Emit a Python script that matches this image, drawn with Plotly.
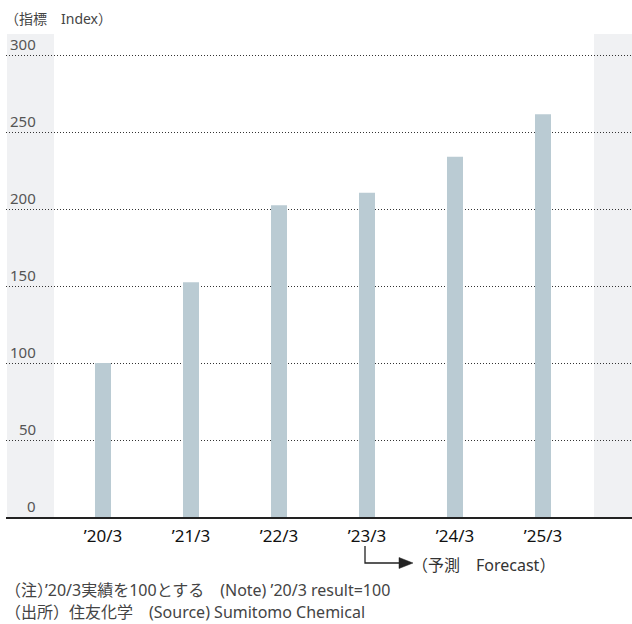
import plotly.graph_objects as go

categories = ["’20/3", "’21/3", "’22/3", "’23/3", "’24/3", "’25/3"]
values = [100, 152.5, 202.5, 210.5, 234, 261.5]
ytick_vals = [0, 50, 100, 150, 200, 250, 300]
ytick_text = ["0", "50", "100", "150", "200", "250", "300"]

W, H = 632, 624
ML, MR, MT, MB = 6, 0, 34, 107
PW, PH = W - ML - MR, H - MT - MB
FONT = "Noto Sans, Noto Sans CJK JP, sans-serif"


def px(x):
    return (x - ML) / PW


def py(y):
    return (H - MB - y) / PH


fig = go.Figure()
fig.add_trace(go.Bar(
    x=list(range(len(categories))), y=values,
    width=0.182, marker=dict(color="#bacbd3", line=dict(width=0)),
    hoverinfo="skip",
))

shapes = [
    dict(type="rect", xref="paper", yref="paper", x0=px(7), x1=px(54), y0=0, y1=1,
         fillcolor="#f0f1f3", line=dict(width=0), layer="below"),
    dict(type="rect", xref="paper", yref="paper", x0=px(594), x1=1, y0=0, y1=1,
         fillcolor="#f0f1f3", line=dict(width=0), layer="below"),
    # forecast arrow
    dict(type="path", xref="paper", yref="paper",
         path=f"M {px(365)} {py(546)} L {px(365)} {py(563)} L {px(402)} {py(563)}",
         line=dict(color="#222", width=1.3)),
    dict(type="path", xref="paper", yref="paper",
         path=f"M {px(399)} {py(557.5)} L {px(413)} {py(563)} L {px(399)} {py(568.5)} Z",
         fillcolor="#222", line=dict(color="#222", width=0.5)),
]

annotations = []
for v, t in zip(ytick_vals, ytick_text):
    annotations.append(dict(x=px(38), xref="paper", y=v, yref="y", text=t, showarrow=False,
                            xanchor="right", yanchor="bottom", yshift=-1,
                            font=dict(family=FONT, size=15, color="#555")))

annotations += [
    dict(x=px(3), y=py(18), xref="paper", yref="paper", text="（指標　Index）", showarrow=False,
         xanchor="left", yanchor="middle", font=dict(family=FONT, size=14, color="#444")),
    dict(x=px(410), y=py(565), xref="paper", yref="paper", text="（予測　Forecast）", showarrow=False,
         xanchor="left", yanchor="middle", font=dict(family=FONT, size=16, color="#333")),
    dict(x=px(3), y=py(590), xref="paper", yref="paper",
         text="（注）’20/3実績を100とする　(Note) ’20/3 result=100", showarrow=False,
         xanchor="left", yanchor="middle", font=dict(family=FONT, size=16, color="#444")),
    dict(x=px(3), y=py(612), xref="paper", yref="paper",
         text="（出所）住友化学　(Source) Sumitomo Chemical", showarrow=False,
         xanchor="left", yanchor="middle", font=dict(family=FONT, size=16, color="#444")),
]

fig.update_layout(
    width=W, height=H,
    margin=dict(l=ML, r=MR, t=MT, b=MB, pad=0),
    paper_bgcolor="white", plot_bgcolor="rgba(0,0,0,0)",
    showlegend=False,
    shapes=shapes, annotations=annotations,
    xaxis=dict(
        tickmode="array", tickvals=list(range(len(categories))), ticktext=categories,
        range=[(ML - 103) / 88, (W - MR - 103) / 88],
        showgrid=False, zeroline=False, showline=True, linecolor="#222", linewidth=1.5,
        ticks="", ticklabelstandoff=3,
        tickfont=dict(family=FONT, size=17, color="#111"), fixedrange=True,
    ),
    yaxis=dict(
        range=[0, (H - MB - MT) / 1.54], tickvals=ytick_vals[1:], showticklabels=False,
        showgrid=True, gridcolor="#333", griddash="1px,2px", gridwidth=1,
        zeroline=False, showline=False, ticks="", fixedrange=True,
    ),
)

fig.write_html("out.html")
